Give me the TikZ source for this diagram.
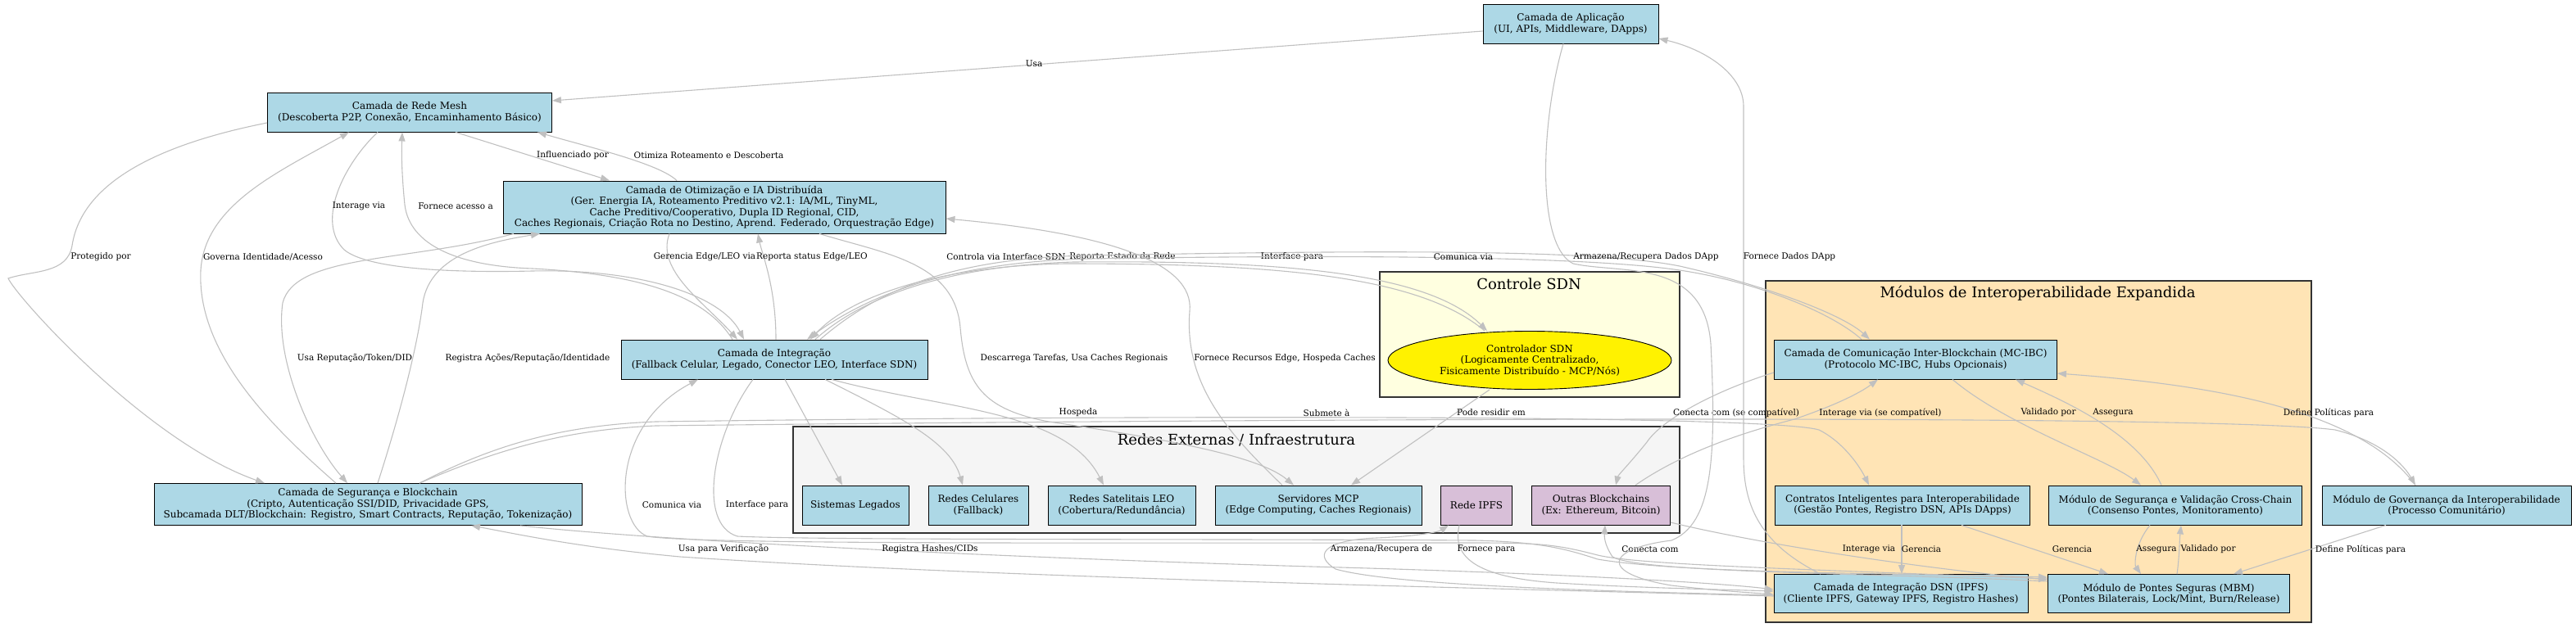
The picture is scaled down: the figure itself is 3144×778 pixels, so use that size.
\documentclass[tikz,border=0pt]{standalone}
\usepackage{fontspec}
\setmainfont{DejaVu Serif}
\usetikzlibrary{arrows.meta, shapes.geometric}

\definecolor{layerblue}{HTML}{ADD8E6}
\definecolor{extgray}{HTML}{F5F5F5}
\definecolor{sdnyellow}{HTML}{FFFFE0}
\definecolor{interopbg}{HTML}{FFE4B5}
\definecolor{chainpink}{HTML}{D8BFD8}
\definecolor{edgegray}{HTML}{C0C0C0}

\tikzset{
    box/.style={draw=black, line width=0.9pt, fill=layerblue, align=center, inner sep=2pt, font=\fontsize{12}{13.5}\selectfont},
    chainbox/.style={box, fill=chainpink},
    ctrl/.style={ellipse, draw=black, line width=0.9pt, fill=yellow, align=center, inner sep=0pt, font=\fontsize{12}{13.5}\selectfont},
    cluster/.style={draw=black!80, line width=1.4pt},
    title/.style={font=\fontsize{18}{20}\selectfont},
    arrow/.style={-{Triangle[length=11pt,width=8pt]}, edgegray, line width=1.1pt},
    lbl/.style={font=\fontsize{10.5}{12}\selectfont, text=black, inner sep=1pt}
}

\begin{document}
\begin{tikzpicture}[x=1pt, y=-1pt]
    \useasboundingbox (0,0) rectangle (3144,778);

    % clusters
    \draw[cluster, fill=extgray] (968,521) rectangle (2050,651);
    \node[title] (exttitle) at (1509,537) {Redes Externas / Infraestrutura};
    \draw[cluster, fill=sdnyellow] (1684,332) rectangle (2050,485);
    \node[title] (sdntitle) at (1866,347) {Controle SDN};
    \draw[cluster, fill=interopbg] (2155,343) rectangle (2821,760);
    \node[title] (interoptitle) at (2487,358) {Módulos de Interoperabilidade Expandida};

    % layers
    \node[box, minimum width=214pt, minimum height=48pt] (app) at (1917,29) {Camada de Aplicação\\(UI, APIs, Middleware, DApps)};
    \node[box, minimum width=347pt, minimum height=48pt] (mesh) at (500,137) {Camada de Rede Mesh\\(Descoberta P2P, Conexão, Encaminhamento Básico)};
    \node[box, minimum width=540pt, minimum height=64pt] (opt) at (884,253) {Camada de Otimização e IA Distribuída\\(Ger. Energia IA, Roteamento Preditivo v2.1: IA/ML, TinyML,\\Cache Preditivo/Cooperativo, Dupla ID Regional, CID,\\Caches Regionais, Criação Rota no Destino, Aprend. Federado, Orquestração Edge)};
    \node[box, minimum width=374pt, minimum height=48pt] (integ) at (945,439) {Camada de Integração\\(Fallback Celular, Legado, Conector LEO, Interface SDN)};
    \node[box, minimum width=522pt, minimum height=51pt] (sec) at (449,616) {Camada de Segurança e Blockchain\\(Cripto, Autenticação SSI/DID, Privacidade GPS,\\Subcamada DLT/Blockchain: Registro, Smart Contracts, Reputação, Tokenização)};

    % external networks
    \node[box, minimum width=130pt, minimum height=48pt] (legacy) at (1044,617) {Sistemas Legados};
    \node[box, minimum width=122pt, minimum height=48pt] (cell) at (1194,617) {Redes Celulares\\(Fallback)};
    \node[box, minimum width=180pt, minimum height=48pt] (leo) at (1369,617) {Redes Satelitais LEO\\(Cobertura/Redundância)};
    \node[box, minimum width=252pt, minimum height=48pt] (mcp) at (1609,617) {Servidores MCP\\(Edge Computing, Caches Regionais)};
    \node[chainbox, minimum width=87pt, minimum height=48pt] (ipfs) at (1802,617) {Rede IPFS};
    \node[chainbox, minimum width=169pt, minimum height=48pt] (otherbc) at (1954,617) {Outras Blockchains\\(Ex: Ethereum, Bitcoin)};

    % sdn
    \node[ctrl, minimum width=346pt, minimum height=71pt] (sdn) at (1867,440) {Controlador SDN\\(Logicamente Centralizado,\\Fisicamente Distribuído - MCP/Nós)};

    % interoperability
    \node[box, minimum width=345pt, minimum height=48pt] (mcibc) at (2338,439) {Camada de Comunicação Inter-Blockchain (MC-IBC)\\(Protocolo MC-IBC, Hubs Opcionais)};
    \node[box, minimum width=311pt, minimum height=48pt] (contracts) at (2322,617) {Contratos Inteligentes para Interoperabilidade\\(Gestão Pontes, Registro DSN, APIs DApps)};
    \node[box, minimum width=309pt, minimum height=48pt] (secval) at (2655,617) {Módulo de Segurança e Validação Cross-Chain\\(Consenso Pontes, Monitoramento)};
    \node[box, minimum width=304pt, minimum height=48pt] (gov) at (2986,617) {Módulo de Governança da Interoperabilidade\\(Processo Comunitário)};
    \node[box, minimum width=310pt, minimum height=47pt] (dsn) at (2320,725) {Camada de Integração DSN (IPFS)\\(Cliente IPFS, Gateway IPFS, Registro Hashes)};
    \node[box, minimum width=295pt, minimum height=47pt] (mbm) at (2647,725) {Módulo de Pontes Seguras (MBM)\\(Pontes Bilaterais, Lock/Mint, Burn/Release)};

    % upper edges
    \draw[arrow] ([yshift=-9pt]app.west) -- ([yshift=14pt]mesh.east) node[lbl] at (1262,78) {Usa};
    \draw[arrow] ([xshift=56pt]mesh.south) -- ([xshift=-140pt]opt.north) node[lbl] at (699,190) {Influenciado por};
    \draw[arrow] ([xshift=-58pt]opt.north) .. controls (805,200) and (720,180) .. ([xshift=156pt]mesh.south) node[lbl] at (865,190) {Otimiza Roteamento e Descoberta};
    \draw[arrow] ([xshift=-39pt]mesh.south) .. controls (420,200) and (385,270) .. (420,305) .. controls (450,330) and (560,333) .. (650,331) .. controls (780,328) and (880,360) .. ([xshift=-37pt]integ.north) node[lbl] at (438,252) {Interage via};
    \draw[arrow] ([xshift=-51pt]integ.north) .. controls (860,360) and (780,335) .. (650,328) .. controls (560,325) and (500,300) .. (494,250) .. controls (490,210) and (490,185) .. ([xshift=-9pt]mesh.south) node[lbl] at (556,252) {Fornece acesso a};
    \draw[arrow] ([yshift=-13pt]mesh.west) .. controls (200,175) and (100,220) .. (88,300) .. controls (82,335) and (40,330) .. (10,340) .. controls (22,365) and (180,540) .. ([xshift=-126pt]sec.north) node[lbl] at (123,314) {Protegido por};
    \draw[arrow] ([xshift=-39pt]sec.north) .. controls (330,520) and (240,430) .. (245,330) .. controls (250,250) and (340,210) .. ([xshift=-74pt]mesh.south) node[lbl] at (321,314) {Governa Identidade/Acesso};
    \draw[arrow] ([xshift=-257pt]opt.south) .. controls (500,320) and (360,310) .. (345,370) .. controls (335,440) and (380,540) .. ([xshift=-25pt]sec.north) node[lbl] at (433,438) {Usa Reputação/Token/DID};
    \draw[arrow] ([xshift=12pt]sec.north) .. controls (490,500) and (510,420) .. (516,370) .. controls (525,310) and (600,295) .. ([xshift=-225pt]opt.south) node[lbl] at (644,438) {Registra Ações/Reputação/Identidade};
    \draw[arrow] ([xshift=-67pt]opt.south) .. controls (800,330) and (860,370) .. ([xshift=-45pt]integ.north) node[lbl] at (860,314) {Gerencia Edge/LEO via};
    \draw[arrow] ([xshift=2pt]integ.north) .. controls (947,350) and (930,310) .. ([xshift=41pt]opt.south) node[lbl] at (991,314) {Reporta status Edge/LEO};

    % integration, sdn and mc-ibc
    \draw[arrow] ([xshift=-55pt]sdn.north) .. controls (1730,335) and (1550,322) .. (1300,322) .. controls (1150,325) and (1040,360) .. ([xshift=44pt]integ.north) node[lbl] at (1228,314) {Controla via Interface SDN};
    \draw[arrow] ([xshift=50pt]integ.north) .. controls (1050,365) and (1150,325) .. (1310,320) .. controls (1550,318) and (1740,330) .. ([xshift=-52pt]sdn.north) node[lbl] at (1370,314) {Reporta Estado da Rede};
    \draw[arrow] ([xshift=56pt]integ.north) .. controls (1070,355) and (1160,315) .. (1330,312) .. controls (1700,305) and (1950,305) .. (2050,325) .. controls (2160,350) and (2250,385) .. ([xshift=-56pt]mcibc.north) node[lbl] at (1577,314) {Interface para};
    \draw[arrow] ([xshift=-66pt]mcibc.north) .. controls (2240,385) and (2150,345) .. (2050,330) .. controls (1950,315) and (1700,310) .. (1330,316) .. controls (1160,320) and (1060,360) .. ([xshift=40pt]integ.north) node[lbl] at (1786,314) {Comunica via};

    % optimisation and mcp
    \draw[arrow] ([xshift=116pt]opt.south) .. controls (1080,310) and (1165,320) .. (1172,400) .. controls (1178,470) and (1200,500) .. (1280,515) .. controls (1450,540) and (1540,560) .. ([xshift=-30pt]mcp.north) node[lbl] at (1311,438) {Descarrega Tarefas, Usa Caches Regionais};
    \draw[arrow] ([xshift=-44pt]mcp.north) .. controls (1500,530) and (1445,470) .. (1452,380) .. controls (1458,320) and (1350,285) .. ([yshift=-14pt]opt.east) node[lbl] at (1568,438) {Fornece Recursos Edge, Hospeda Caches};

    % integration to external networks
    \draw[arrow] ([xshift=13pt]integ.south) -- ([xshift=-16pt]legacy.north);
    \draw[arrow] ([xshift=62pt]integ.south) .. controls (1100,510) and (1160,540) .. ([xshift=-19pt]cell.north);
    \draw[arrow] ([xshift=70pt]integ.south) .. controls (1150,500) and (1300,500) .. ([xshift=-22pt]leo.north);
    \draw[arrow] ([xshift=-49pt]sdn.south) -- ([xshift=40pt]mcp.north) node[lbl] at (1820,504) {Pode residir em};

    % security layer to interop
    \draw[arrow] ([xshift=63pt]sec.north) .. controls (600,545) and (680,520) .. (800,515) .. controls (1300,508) and (2150,505) .. (2220,525) .. controls (2250,540) and (2270,570) .. ([xshift=-41pt]contracts.north) node[lbl] at (1316,504) {Hospeda};
    \draw[arrow] ([xshift=63pt]sec.north) .. controls (610,548) and (690,525) .. (800,520) .. controls (1500,512) and (2700,505) .. (2850,525) .. controls (2910,540) and (2935,570) .. ([xshift=-38pt]gov.north) node[lbl] at (1619,504) {Submete à};

    % interop upper
    \draw[arrow] ([yshift=-16pt]mcibc.west) .. controls (2100,475) and (2030,510) .. (2010,540) .. controls (1990,565) and (1975,580) .. ([xshift=18pt]otherbc.north) node[lbl] at (2119,504) {Conecta com (se compatível)};
    \draw[arrow] ([xshift=42pt]otherbc.north) .. controls (2050,555) and (2120,530) .. (2190,512) .. controls (2240,495) and (2270,480) .. ([xshift=-46pt]mcibc.south) node[lbl] at (2295,504) {Interage via (se compatível)};
    \draw[arrow] ([xshift=45pt]mcibc.south) .. controls (2450,520) and (2570,560) .. ([xshift=-42pt]secval.north) node[lbl] at (2500,504) {Validado por};
    \draw[arrow] ([xshift=-17pt]secval.north) .. controls (2610,530) and (2520,490) .. ([xshift=122pt]mcibc.south) node[lbl] at (2579,504) {Assegura};
    \draw[arrow] ([xshift=-38pt]gov.north) .. controls (2880,500) and (2700,470) .. ([yshift=-17pt]mcibc.east) node[lbl] at (2842,504) {Define Políticas para};

    % interop lower
    \draw[arrow] ([xshift=-1pt]contracts.south) -- ([xshift=1pt]dsn.north) node[lbl] at (2345,671) {Gerencia};
    \draw[arrow] ([xshift=72pt]contracts.south) -- ([xshift=-74pt]mbm.north) node[lbl] at (2529,671) {Gerencia};
    \draw[arrow] ([xshift=-31pt]secval.south) .. controls (2605,665) and (2605,690) .. ([xshift=-34pt]mbm.north) node[lbl] at (2632,671) {Assegura};
    \draw[arrow] ([xshift=10pt]mbm.north) .. controls (2660,680) and (2660,660) .. ([xshift=7pt]secval.south) node[lbl] at (2695,671) {Validado por};
    \draw[arrow] ([xshift=-74pt]gov.south) -- ([xshift=79pt]mbm.north) node[lbl] at (2881,671) {Define Políticas para};
    \draw[arrow] ([yshift=-21pt]otherbc.east) .. controls (2150,665) and (2350,695) .. ([yshift=17pt]mbm.west) node[lbl] at (2281,671) {Interage via};
    \draw[arrow] ([yshift=15pt]mbm.west) .. controls (2300,700) and (2000,700) .. (1968,680) .. controls (1958,665) and (1958,655) .. ([xshift=5pt]otherbc.south) node[lbl] at (2014,671) {Conecta com};

    % long lower edges
    \draw[arrow] ([yshift=18pt]mbm.west) .. controls (2200,695) and (2000,690) .. (1950,678) .. controls (1900,665) and (1880,663) .. (1800,663) .. controls (1300,663) and (850,665) .. (790,655) .. controls (750,640) and (745,520) .. ([xshift=-93pt]integ.south) node[lbl] at (820,617) {Comunica via};
    \draw[arrow] ([xshift=-26pt]integ.south) .. controls (870,530) and (850,640) .. (900,655) .. controls (1000,660) and (1500,658) .. (1800,660) .. controls (1880,662) and (1910,670) .. (1950,683) .. controls (2050,700) and (2300,700) .. ([yshift=20pt]mbm.west) node[lbl] at (924,617) {Interface para};
    \draw[arrow] ([xshift=186pt]sec.south) .. controls (800,660) and (1200,680) .. (1600,692) .. controls (1900,700) and (2100,712) .. ([yshift=5pt]dsn.west) node[lbl] at (1135,671) {Registra Hashes/CIDs};
    \draw[arrow] ([yshift=-3pt]dsn.west) .. controls (1800,718) and (1200,705) .. (830,680) .. controls (700,668) and (620,650) .. ([xshift=126pt]sec.south) node[lbl] at (883,671) {Usa para Verificação};
    \draw[arrow] ([yshift=-2pt]dsn.west) .. controls (1950,722) and (1700,715) .. (1630,695) .. controls (1605,680) and (1610,660) .. (1680,657) .. controls (1730,655) and (1755,650) .. ([xshift=-34pt]ipfs.south) node[lbl] at (1686,671) {Armazena/Recupera de};
    \draw[arrow] ([xshift=-21pt]ipfs.south) .. controls (1772,680) and (1800,705) .. (1900,712) .. controls (2000,718) and (2100,720) .. ([yshift=3pt]dsn.west) node[lbl] at (1814,671) {Fornece para};

    % application and dsn
    \draw[arrow] ([xshift=-9pt]app.south) .. controls (1880,150) and (1875,300) .. (1920,322) .. controls (1980,335) and (2080,315) .. (2088,420) .. controls (2095,560) and (2090,640) .. (2040,660) .. controls (1960,670) and (1950,700) .. (2040,715) .. controls (2100,722) and (2140,724) .. ([yshift=-1pt]dsn.west) node[lbl] at (2009,314) {Armazena/Recupera Dados DApp};
    \draw[arrow] ([xshift=-98pt]dsn.north) .. controls (2150,665) and (2128,620) .. (2128,560) -- (2128,130) .. controls (2128,90) and (2080,60) .. ([yshift=-18pt]app.east) node[lbl] at (2184,314) {Fornece Dados DApp};
\end{tikzpicture}
\end{document}
